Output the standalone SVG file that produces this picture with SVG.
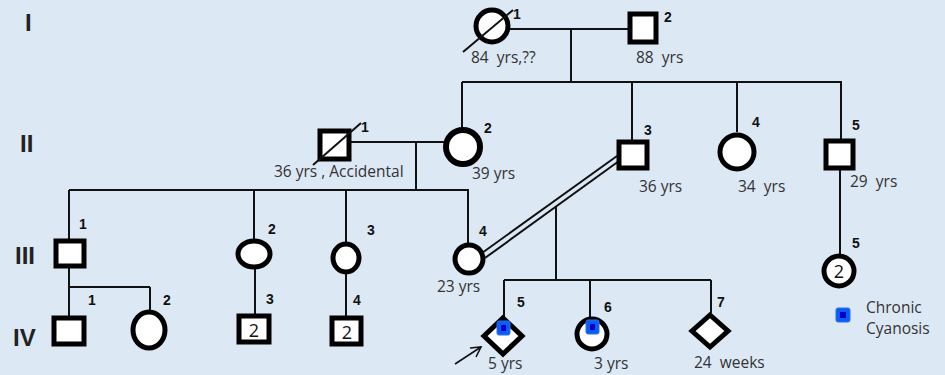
<svg xmlns="http://www.w3.org/2000/svg" width="945" height="375" viewBox="0 0 945 375">
<style>
.bg{fill:#dde8f5}
.ln{stroke:#111;stroke-width:2;fill:none}
.sym{fill:#fff;stroke:#000;stroke-width:5}
.gen{font-family:"Liberation Sans Narrow","Liberation Sans",Arial,sans-serif;font-weight:bold;font-size:24px;fill:#222}
.num{font-family:"Liberation Sans",Arial,sans-serif;font-weight:bold;font-size:14px;fill:#111}
.age{font-family:"Open Sans","Liberation Sans",sans-serif;font-size:15.5px;fill:#333;white-space:pre}
.in{font-family:"Open Sans","Liberation Sans",sans-serif;font-size:18px;fill:#111;text-anchor:middle}
.blue{fill:#0a5cf5;stroke:#2a6ef0;stroke-width:1}
.bdot{fill:#0000c8}
</style>
<rect class="bg" x="0" y="0" width="945" height="375"/>
<g id="gen-labels">
<text class="gen" x="25" y="31">I</text>
<text class="gen" x="20" y="152">II</text>
<text class="gen" x="15" y="264">III</text>
<text class="gen" x="13" y="346">IV</text>
</g>
<g id="connectors">
<line class="ln" x1="508" y1="29" x2="628" y2="29"/>
<line class="ln" x1="571" y1="29" x2="571" y2="82"/>
<line class="ln" x1="462" y1="82" x2="842" y2="82"/>
<line class="ln" x1="462" y1="82" x2="462" y2="128"/>
<line class="ln" x1="632" y1="82" x2="632" y2="140"/>
<line class="ln" x1="737" y1="82" x2="737" y2="132"/>
<line class="ln" x1="841" y1="82" x2="841" y2="139"/>
<line class="ln" x1="350" y1="142" x2="444" y2="142"/>
<line class="ln" x1="416" y1="142" x2="416" y2="190"/>
<line class="ln" x1="69" y1="190" x2="469" y2="190"/>
<line class="ln" x1="69" y1="190" x2="69" y2="239"/>
<line class="ln" x1="254" y1="190" x2="254" y2="240"/>
<line class="ln" x1="346" y1="190" x2="346" y2="243"/>
<line class="ln" x1="468" y1="190" x2="468" y2="245"/>
<line class="ln" x1="840" y1="170" x2="840" y2="257"/>
<line class="ln" x1="617" y1="156" x2="482" y2="253"/>
<line class="ln" x1="619" y1="161" x2="485" y2="258"/>
<line class="ln" x1="556" y1="206" x2="556" y2="280"/>
<line class="ln" x1="504" y1="280" x2="711" y2="280"/>
<line class="ln" x1="504" y1="280" x2="504" y2="318"/>
<line class="ln" x1="590" y1="280" x2="590" y2="320"/>
<line class="ln" x1="711" y1="280" x2="711" y2="313"/>
<line class="ln" x1="69" y1="268" x2="69" y2="316"/>
<line class="ln" x1="69" y1="287" x2="150" y2="287"/>
<line class="ln" x1="150" y1="287" x2="150" y2="311"/>
<line class="ln" x1="255" y1="269" x2="255" y2="314"/>
<line class="ln" x1="346" y1="273" x2="346" y2="316"/>
</g>
<g id="I-1">
<circle class="sym" cx="492" cy="26" r="16"/>
<line x1="463" y1="52" x2="513" y2="10" stroke="#111" stroke-width="2"/>
<text class="num" x="513" y="19">1</text>
<text class="age" x="471" y="63">84  yrs,??</text>
</g>
<g id="I-2">
<rect class="sym" x="630" y="14" width="26" height="28"/>
<text class="num" x="664" y="22">2</text>
<text class="age" x="636" y="63">88  yrs</text>
</g>
<g id="II-1">
<rect class="sym" x="320" y="131" width="29" height="28"/>
<line x1="313" y1="165" x2="361" y2="123" stroke="#111" stroke-width="2"/>
<text class="num" x="361" y="132">1</text>
<text class="age" x="274" y="177">36 yrs , Accidental</text>
</g>
<g id="II-2">
<circle cx="463" cy="147" r="17" fill="#fff" stroke="#000" stroke-width="6"/>
<text class="num" x="484" y="133">2</text>
<text class="age" x="472" y="179">39 yrs</text>
</g>
<g id="II-3">
<rect class="sym" x="619" y="142" width="28" height="26"/>
<text class="num" x="644" y="135">3</text>
<text class="age" x="639" y="192">36 yrs</text>
</g>
<g id="II-4">
<circle class="sym" cx="737" cy="152" r="17"/>
<text class="num" x="752" y="127">4</text>
<text class="age" x="738" y="192">34  yrs</text>
</g>
<g id="II-5">
<rect class="sym" x="826" y="141" width="27" height="27"/>
<text class="num" x="852" y="130">5</text>
<text class="age" x="850" y="187">29  yrs</text>
</g>
<g id="III-1">
<rect class="sym" x="56" y="241" width="28" height="25"/>
<text class="num" x="79" y="229">1</text>
</g>
<g id="III-2">
<ellipse class="sym" cx="254" cy="254" rx="16" ry="13"/>
<text class="num" x="268" y="234">2</text>
</g>
<g id="III-3">
<ellipse class="sym" cx="346" cy="258" rx="13" ry="14"/>
<text class="num" x="367" y="235">3</text>
</g>
<g id="III-4">
<circle class="sym" cx="469" cy="259" r="14"/>
<text class="num" x="479" y="236">4</text>
<text class="age" x="437" y="292">23 yrs</text>
</g>
<g id="III-5">
<circle class="sym" cx="839" cy="271" r="15"/>
<text class="in" x="839" y="278">2</text>
<text class="num" x="852" y="248">5</text>
</g>
<g id="IV-1">
<rect class="sym" x="54" y="318" width="30" height="26"/>
<text class="num" x="88" y="305">1</text>
</g>
<g id="IV-2">
<ellipse class="sym" cx="149" cy="330" rx="16" ry="18"/>
<text class="num" x="163" y="305">2</text>
</g>
<g id="IV-3">
<rect class="sym" x="239" y="316" width="30" height="26"/>
<text class="in" x="254" y="337">2</text>
<text class="num" x="266" y="304">3</text>
</g>
<g id="IV-4">
<rect class="sym" x="332" y="318" width="29" height="26"/>
<text class="in" x="347" y="339">2</text>
<text class="num" x="353" y="305">4</text>
</g>
<g id="IV-5">
<polygon class="sym" points="503,318 522,336 503,354 484,336"/>
<rect class="blue" x="497" y="321" width="13" height="14" rx="2"/>
<rect class="bdot" x="501" y="325" width="5" height="6"/>
<text class="num" x="517" y="307">5</text>
<line x1="455" y1="364" x2="481" y2="347" stroke="#111" stroke-width="1.6"/>
<polyline points="470,348 481,347 476,357" fill="none" stroke="#111" stroke-width="1.6"/>
<text class="age" x="488" y="369">5 yrs</text>
</g>
<g id="IV-6">
<circle class="sym" cx="592" cy="334" r="15"/>
<rect class="blue" x="586" y="320" width="13" height="14" rx="2"/>
<rect class="bdot" x="590" y="324" width="5" height="6"/>
<text class="num" x="604" y="312">6</text>
<text class="age" x="594" y="369">3 yrs</text>
</g>
<g id="IV-7">
<polygon class="sym" points="710,315 728,331 710,347 692,331"/>
<text class="num" x="717" y="307">7</text>
<text class="age" x="694" y="368">24  weeks</text>
</g>
<g id="legend">
<rect class="blue" x="836" y="308" width="14" height="14" rx="2"/>
<rect class="bdot" x="840" y="312" width="6" height="6"/>
<text class="age" x="866" y="313" font-size="14.5">Chronic</text>
<text class="age" x="866" y="334" font-size="14.5">Cyanosis</text>
</g>
</svg>
